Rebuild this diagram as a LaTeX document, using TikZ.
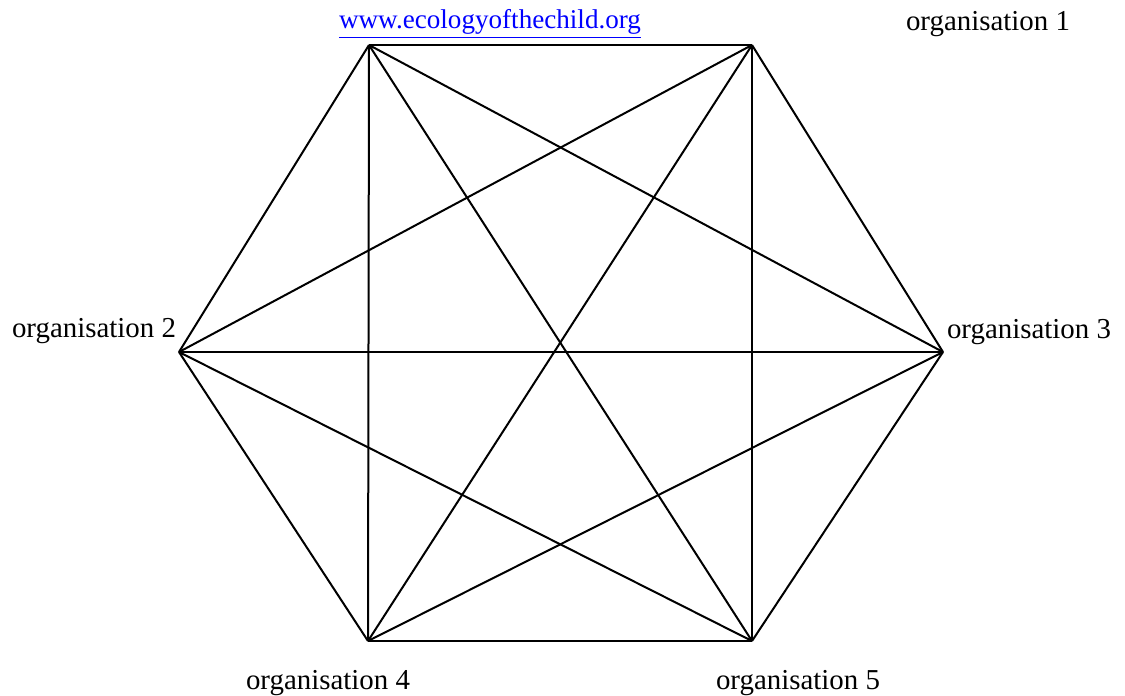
\documentclass[tikz,border=0pt]{standalone}
\usepackage{fontspec}
\setmainfont{Liberation Serif}
\usepackage{tikz}

\begin{document}
\begin{tikzpicture}[x=0.45pt, y=-0.45pt, line width=0.9pt,
        every node/.style={font=\fontsize{13pt}{15pt}\selectfont, inner sep=0pt, anchor=base}]
            \useasboundingbox (0,0) rectangle (1125,696);
            \coordinate (P1) at (369,45);
            \coordinate (P2) at (752,45);
            \coordinate (P3) at (943,352);
            \coordinate (P4) at (752,641);
            \coordinate (P5) at (368,641);
            \coordinate (P6) at (179,352);
            
            % every pair of organisations is linked
            \foreach \i in {1,...,5} {
                \pgfmathtruncatemacro{\nxt}{\i+1}
                \foreach \j in {\nxt,...,6} {
                    \draw (P\i) -- (P\j);
                }
            }
            
            \node[text=blue, font=\fontsize{12.2pt}{14pt}\selectfont] (web) at (490,28) {\underline{www.ecologyofthechild.org}};
            \node (org1) at (988,30) {organisation 1};
            \node (org2) at (94,337) {organisation 2};
            \node (org3) at (1029,338) {organisation 3};
            \node (org4) at (328,689) {organisation 4};
            \node (org5) at (798,689) {organisation 5};
        \end{tikzpicture}
\end{document}
